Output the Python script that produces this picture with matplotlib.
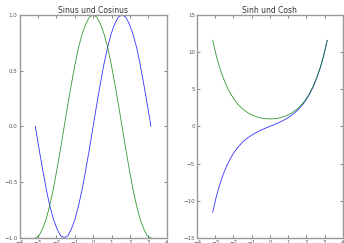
import matplotlib
matplotlib.use("Agg")
import matplotlib.pyplot as plt

# ---------- data ----------
X = [-3.14, -2.94, -2.75, -2.55, -2.36, -2.16, -1.96, -1.77, -1.57, -1.37, -1.18,
     -0.98, -0.79, -0.59, -0.39, -0.20, 0.00, 0.20, 0.39, 0.59, 0.79, 0.98,
     1.18, 1.37, 1.57, 1.77, 1.96, 2.16, 2.36, 2.55, 2.75, 2.94, 3.14]
SIN = [0.0, -0.2, -0.38, -0.56, -0.71, -0.83, -0.92, -0.98, -1.0, -0.98, -0.92,
       -0.83, -0.71, -0.56, -0.38, -0.2, 0.0, 0.2, 0.38, 0.56, 0.71, 0.83,
       0.92, 0.98, 1.0, 0.98, 0.92, 0.83, 0.71, 0.56, 0.38, 0.2, 0.0]
COS = [-1.0, -0.98, -0.92, -0.83, -0.71, -0.56, -0.38, -0.2, 0.0, 0.2, 0.38,
       0.56, 0.71, 0.83, 0.92, 0.98, 1.0, 0.98, 0.92, 0.83, 0.71, 0.56,
       0.38, 0.2, 0.0, -0.2, -0.38, -0.56, -0.71, -0.83, -0.92, -0.98, -1.0]
SINH = [-11.55, -9.43, -7.79, -6.37, -5.25, -4.28, -3.48, -2.85, -2.30, -1.84, -1.48,
        -1.15, -0.87, -0.62, -0.40, -0.20, 0.0, 0.20, 0.40, 0.62, 0.87, 1.15,
        1.48, 1.84, 2.30, 2.85, 3.48, 4.28, 5.25, 6.37, 7.79, 9.43, 11.55]
COSH = [11.59, 9.48, 7.85, 6.45, 5.34, 4.39, 3.62, 3.01, 2.51, 2.10, 1.78,
        1.52, 1.33, 1.18, 1.08, 1.02, 1.0, 1.02, 1.08, 1.18, 1.33, 1.52,
        1.78, 2.10, 2.51, 3.01, 3.62, 4.39, 5.34, 6.45, 7.85, 9.48, 11.59]

X_TICKS = [-4, -3, -2, -1, 0, 1, 2, 3, 4]

fig = plt.figure(figsize=(3.44, 2.43), dpi=100)
ax1 = fig.add_axes([0.0567, 0.021, 0.428, 0.918])
ax2 = fig.add_axes([0.5727, 0.021, 0.424, 0.918])


def style(ax, yticks, title):
    ax.set_xlim(-4, 4)
    ax.set_xticks(X_TICKS)
    ax.set_yticks(yticks)
    ax.set_ylim(yticks[0], yticks[-1])
    ax.tick_params(direction="in", length=2.5, width=0.5, labelsize=4,
                   top=True, right=True, colors="#555555", pad=1.5)
    for sp in ax.spines.values():
        sp.set_color("#999999")
        sp.set_linewidth(1.0)
    ax.set_title(title, fontsize=5.5, pad=1.5, color="#333333")


ax1.plot(X, SIN, color="b", lw=0.6, alpha=0.8)
ax1.plot(X, COS, color="g", lw=0.6, alpha=0.8)
style(ax1, [-1.0, -0.5, 0.0, 0.5, 1.0], "Sinus und Cosinus")

ax2.plot(X, SINH, color="b", lw=0.6, alpha=0.8)
ax2.plot(X, COSH, color="g", lw=0.6, alpha=0.8)
style(ax2, [-15, -10, -5, 0, 5, 10, 15], "Sinh und Cosh")

fig.savefig("out.png", dpi=100)
